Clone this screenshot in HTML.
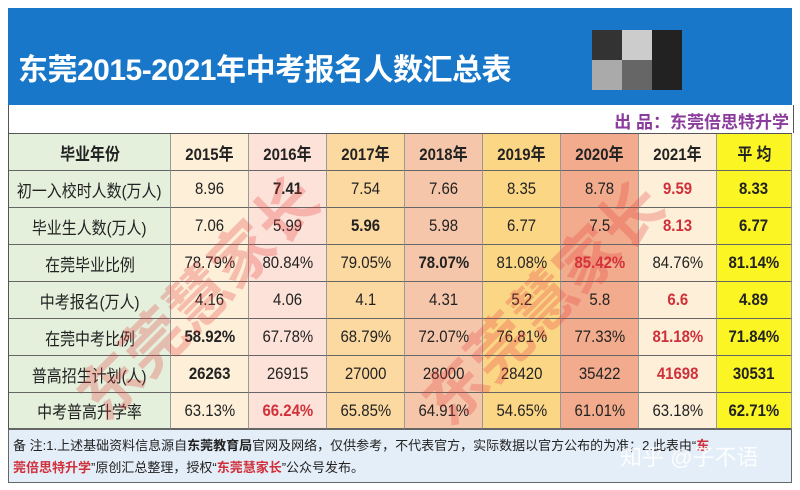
<!DOCTYPE html>
<html><head><meta charset="utf-8">
<style>
body{margin:0;width:800px;height:490px;background:#fff;overflow:hidden;position:relative;font-family:"Liberation Sans","Noto Sans CJK SC",sans-serif;}
.banner{position:absolute;left:8px;top:8px;width:784px;height:97px;background:#1877c9;}
.title{position:absolute;left:10px;top:37px;font-size:30px;font-weight:bold;color:#fff;letter-spacing:-0.5px;white-space:nowrap;}
.mosaic{position:absolute;left:592px;top:30px;width:90px;height:60px;display:grid;grid-template-columns:30px 30px 30px;}
.sub{position:absolute;left:8px;top:105px;width:784px;height:28px;background:#fff;border-left:1px solid #555;border-right:1px solid #555;}
.sub span{position:absolute;right:4px;top:3px;font-size:17px;font-weight:bold;color:#8b3b9b;}
.grid{position:absolute;left:8px;top:133px;width:784px;height:296px;border:1px solid #555;box-sizing:border-box;}
.cell{position:absolute;display:flex;align-items:center;justify-content:center;font-size:17px;color:#222;border-right:1px solid #999;border-bottom:1px solid #666;box-sizing:border-box;white-space:nowrap;}
.cell span{display:inline-block;transform:scaleX(0.88);}
.b{font-weight:bold;}.r{color:#d0303a;font-weight:bold;}
.foot{position:absolute;left:8px;top:429px;width:784px;height:54px;background:#e4eef8;border:1px solid #666;box-sizing:border-box;font-size:13px;color:#222;padding:5px 4px;line-height:22px;}
.foot .r{color:#d0303a}
.wm{position:absolute;font-size:62px;font-weight:bold;color:rgba(230,60,60,0.28);transform:rotate(-45deg);white-space:nowrap;pointer-events:none;}
.zh{position:absolute;left:620px;top:440px;font-size:22px;color:rgba(255,255,255,0.85);}
</style></head><body>
<div class="banner">
 <div class="title">东莞2015-2021年中考报名人数汇总表</div>
</div>
<div class="mosaic">
 <div style="background:#333"></div><div style="background:#ccc"></div><div style="background:#222"></div>
 <div style="background:#aaa"></div><div style="background:#666"></div><div style="background:#222"></div>
</div>
<div class="sub"><span>出 品：东莞倍思特升学</span></div>
<div class="grid" id="grid"></div>
<div class="wm" style="left:40px;top:250px;">东莞慧家长</div>
<div class="wm" style="left:385px;top:255px;">东莞慧家长</div>
<div class="foot">备 注:1.上述基础资料信息源自<b>东莞教育局</b>官网及网络，仅供参考，不代表官方，实际数据以官方公布的为准；2.此表由“<span class="r">东<br>莞倍思特升学</span>”原创汇总整理，授权“<span class="r">东莞慧家长</span>”公众号发布。</div>
<div class="zh">知乎 @子不语</div>
<script>
const headers=["毕业年份","2015年","2016年","2017年","2018年","2019年","2020年","2021年","平 均"];
const rowLabels=["初一入校时人数(万人)","毕业生人数(万人)","在莞毕业比例","中考报名(万人)","在莞中考比例","普高招生计划(人)","中考普高升学率"];
const rowValues=[
["8.96","7.41","7.54","7.66","8.35","8.78","9.59","8.33"],
["7.06","5.99","5.96","5.98","6.77","7.5","8.13","6.77"],
["78.79%","80.84%","79.05%","78.07%","81.08%","85.42%","84.76%","81.14%"],
["4.16","4.06","4.1","4.31","5.2","5.8","6.6","4.89"],
["58.92%","67.78%","68.79%","72.07%","76.81%","77.33%","81.18%","71.84%"],
["26263","26915","27000","28000","28420","35422","41698","30531"],
["63.13%","66.24%","65.85%","64.91%","54.65%","61.01%","63.18%","62.71%"]];
const styles=[
["","b","","","","","r","b"],
["","","b","","","","r","b"],
["","","","b","","r","","b"],
["","","","","","","r","b"],
["b","","","","","","r","b"],
["b","","","","","","r","b"],
["","r","","","","","","b"]];
const colBg=["#e4efdc","#fdefd8","#fce2d8","#fcd9a0","#f6c6ab","#fbd685","#f2ab8c","#fdefd8","#fbf523"];
const colX=[0,162,240,318,396,474,552,630,708,783];
const rowY=[0,37,74,111,148,185,222,259,295];
const g=document.getElementById('grid');
function mk(ci,ri,text,cls,name){
 const d=document.createElement('div');
 d.className='cell '+(cls||'');
 d.style.left=colX[ci]+'px';d.style.top=rowY[ri]+'px';
 d.style.width=(colX[ci+1]-colX[ci])+'px';d.style.height=(rowY[ri+1]-rowY[ri])+'px';
 d.style.background=colBg[ci];
 const s=document.createElement('span');
 s.textContent=text;
 d.appendChild(s);
 
 
 g.appendChild(d);
}
headers.forEach((h,i)=>mk(i,0,h,'b','header-'+i));
rowLabels.forEach((l,r)=>{
 mk(0,r+1,l,'','row-label-'+r);
 rowValues[r].forEach((v,c)=>mk(c+1,r+1,v,styles[r][c],'cell-r'+r+'-c'+c));
});
</script>
</body></html>
